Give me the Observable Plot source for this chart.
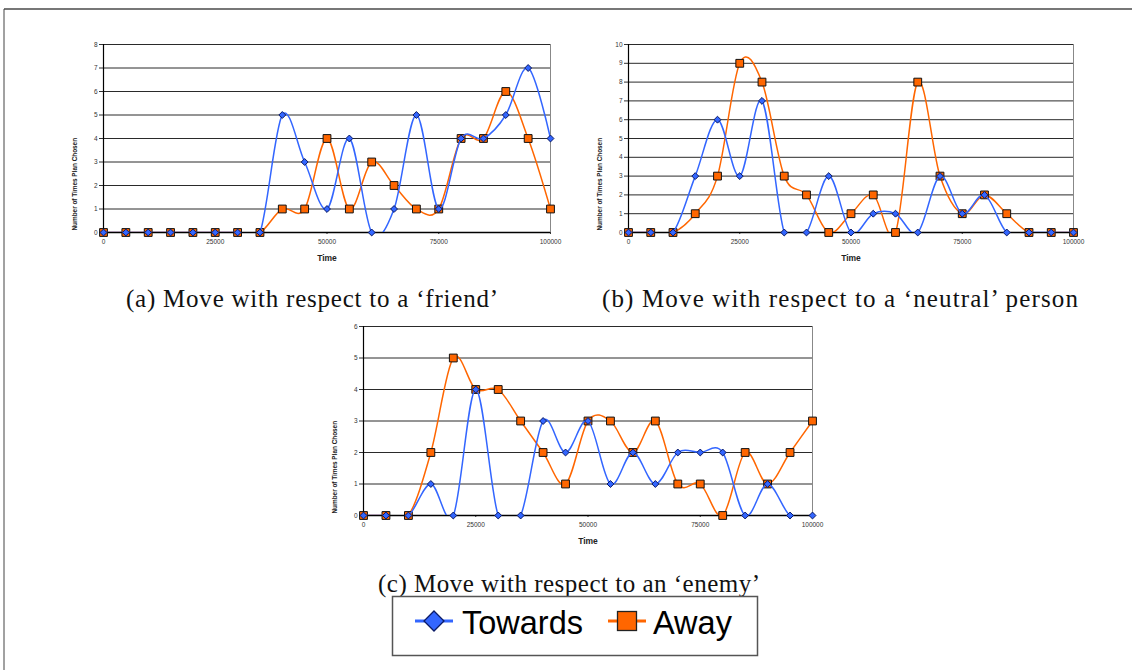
<!DOCTYPE html>
<html>
<head>
<meta charset="utf-8">
<script src="https://cdn.jsdelivr.net/npm/d3@7"></script>
<script src="https://cdn.jsdelivr.net/npm/@observablehq/plot@0.6"></script>
<style>
  html, body { margin: 0; padding: 0; background: #fff; }
  #page { position: relative; width: 1132px; height: 670px; overflow: hidden; background: #fff; }
  .chart { position: absolute; }
  .chart svg { max-width: none !important; overflow: visible; }
  #overlay { position: absolute; left: 0; top: 0; }
</style>
</head>
<body>
<div id="page">
  <svg id="overlay" width="1132" height="670"></svg>
  <div id="chartA" class="chart" style="left:63px; top:34px; width:497px;"></div>
  <div id="chartB" class="chart" style="left:588px; top:34px; width:495px;"></div>
  <div id="chartC" class="chart" style="left:323px; top:316px; width:499px;"></div>
</div>
<script>
// ---- data ----
const times = [0, 5000, 10000, 15000, 20000, 25000, 30000, 35000, 40000, 45000, 50000,
               55000, 60000, 65000, 70000, 75000, 80000, 85000, 90000, 95000, 100000];
const xTicks = [0, 25000, 50000, 75000, 100000];

const friendTowards  = [0, 0, 0, 0, 0, 0, 0, 0, 5, 3, 1, 4, 0, 1, 5, 1, 4, 4, 5, 7, 4];
const friendAway     = [0, 0, 0, 0, 0, 0, 0, 0, 1, 1, 4, 1, 3, 2, 1, 1, 4, 4, 6, 4, 1];
const neutralTowards = [0, 0, 0, 3, 6, 3, 7, 0, 0, 3, 0, 1, 1, 0, 3, 1, 2, 0, 0, 0, 0];
const neutralAway    = [0, 0, 0, 1, 3, 9, 8, 3, 2, 0, 1, 2, 0, 8, 3, 1, 2, 1, 0, 0, 0];
const enemyTowards   = [0, 0, 0, 1, 0, 4, 0, 0, 3, 2, 3, 1, 2, 1, 2, 2, 2, 0, 1, 0, 0];
const enemyAway      = [0, 0, 0, 2, 5, 4, 4, 3, 2, 1, 3, 3, 2, 3, 1, 1, 0, 2, 1, 2, 3];

const yTicksFriend  = [0, 1, 2, 3, 4, 5, 6, 7, 8];
const yTicksNeutral = [0, 1, 2, 3, 4, 5, 6, 7, 8, 9, 10];
const yTicksEnemy   = [0, 1, 2, 3, 4, 5, 6];

const seriesNames = ["Towards", "Away"];
const captions = [
  "(a) Move with respect to a \u2018friend\u2019",
  "(b) Move with respect to a \u2018neutral\u2019 person",
  "(c) Move with respect to an \u2018enemy\u2019"
];
const xLabel = "Time";
const yLabel = "Number of Times Plan Chosen";

// ---- styles ----
const BLUE = "#3366ff";
const BLUE_EDGE = "#0a1a66";
const ORANGE = "#ff6600";

function rows(values) { return times.map((t, i) => ({t, v: values[i]})); }

function makeChart(towardsVals, awayVals, yTicks, width, height) {
  const yMax = yTicks[yTicks.length - 1];
  const towards = rows(towardsVals), away = rows(awayVals);
  return Plot.plot({
    width, height,
    marginLeft: 40, marginRight: 10, marginTop: 10, marginBottom: 36,
    style: {fontFamily: "'Liberation Sans', Arial, sans-serif", fontSize: "6.5px", color: "#333", background: "transparent"},
    x: {domain: [0, 100000], ticks: xTicks, tickFormat: d => String(d), tickSize: 2, tickPadding: 5, label: null},
    y: {domain: [0, yMax], ticks: yTicks, tickFormat: d => String(d), tickSize: 4, tickPadding: 2, label: null},
    marks: [
      Plot.ruleY(yTicks.slice(1), {stroke: "#2a2a2a", strokeWidth: 1}),
      Plot.ruleX([100000], {stroke: "#888", strokeWidth: 1}),
      Plot.ruleX([0], {stroke: "#000", strokeWidth: 1.2}),
      Plot.ruleY([0], {stroke: "#000", strokeWidth: 1.5}),
      Plot.lineY(away, {x: "t", y: "v", curve: "cardinal", tension: 0, stroke: ORANGE, strokeWidth: 1.5, clip: true}),
      Plot.dot(away, {x: "t", y: "v", symbol: "square", r: 4.4, fill: ORANGE, stroke: "#111", strokeWidth: 1}),
      Plot.lineY(towards, {x: "t", y: "v", curve: "cardinal", tension: 0, stroke: BLUE, strokeWidth: 1.5, clip: true}),
      Plot.dot(towards, {x: "t", y: "v", symbol: "diamond2", r: 3.1, fill: BLUE, stroke: BLUE_EDGE, strokeWidth: 1}),
      Plot.text([xLabel], {frameAnchor: "bottom", text: d => d, dy: 28, fontWeight: "bold", fontSize: 8.5, fill: "#222"}),
      Plot.text([yLabel], {frameAnchor: "bottom-left", text: d => d, rotate: -90, textAnchor: "start", dx: -27, dy: -2, fontWeight: "bold", fontSize: 6.4, fill: "#222"})
    ]
  });
}

document.getElementById("chartA").appendChild(makeChart(friendTowards, friendAway, yTicksFriend, 497, 234));
document.getElementById("chartB").appendChild(makeChart(neutralTowards, neutralAway, yTicksNeutral, 495, 234));
document.getElementById("chartC").appendChild(makeChart(enemyTowards, enemyAway, yTicksEnemy, 499, 235));

// ---- overlay: frame, captions, legend ----
const ov = d3.select("#overlay");
ov.append("line").attr("x1", 4).attr("x2", 1132).attr("y1", 9).attr("y2", 9).attr("stroke", "#777").attr("stroke-width", 2);
ov.append("line").attr("x1", 4).attr("x2", 4).attr("y1", 9).attr("y2", 670).attr("stroke", "#444").attr("stroke-width", 1);

const capPos = [[126, 307, 372], [602, 307, 476], [378, 592, 382]];
captions.forEach((c, i) => {
  ov.append("text").attr("x", capPos[i][0]).attr("y", capPos[i][1])
    .attr("font-family", "'Liberation Serif', 'Times New Roman', serif").attr("font-size", 25)
    .attr("textLength", capPos[i][2]).attr("lengthAdjust", "spacing")
    .attr("fill", "#111").text(c);
});

// legend
ov.append("rect").attr("x", 392.5).attr("y", 596.5).attr("width", 365).attr("height", 59)
  .attr("fill", "#fff").attr("stroke", "#555").attr("stroke-width", 1.5);
ov.append("line").attr("x1", 415).attr("x2", 453).attr("y1", 621).attr("y2", 621).attr("stroke", BLUE).attr("stroke-width", 3);
ov.append("path").attr("d", "M434,611L444,621L434,631L424,621Z").attr("fill", BLUE).attr("stroke", BLUE_EDGE).attr("stroke-width", 1.3);
ov.append("text").attr("x", 462).attr("y", 634).attr("font-family", "'Liberation Sans', Arial, sans-serif").attr("font-size", 32.5).attr("fill", "#000").text(seriesNames[0]);
ov.append("line").attr("x1", 608).attr("x2", 646).attr("y1", 621).attr("y2", 621).attr("stroke", ORANGE).attr("stroke-width", 3);
ov.append("rect").attr("x", 617.5).attr("y", 611.5).attr("width", 19).attr("height", 19).attr("fill", ORANGE).attr("stroke", "#222").attr("stroke-width", 1.3);
ov.append("text").attr("x", 653).attr("y", 634).attr("font-family", "'Liberation Sans', Arial, sans-serif").attr("font-size", 32.5).attr("fill", "#000").text(seriesNames[1]);
</script>
</body>
</html>
